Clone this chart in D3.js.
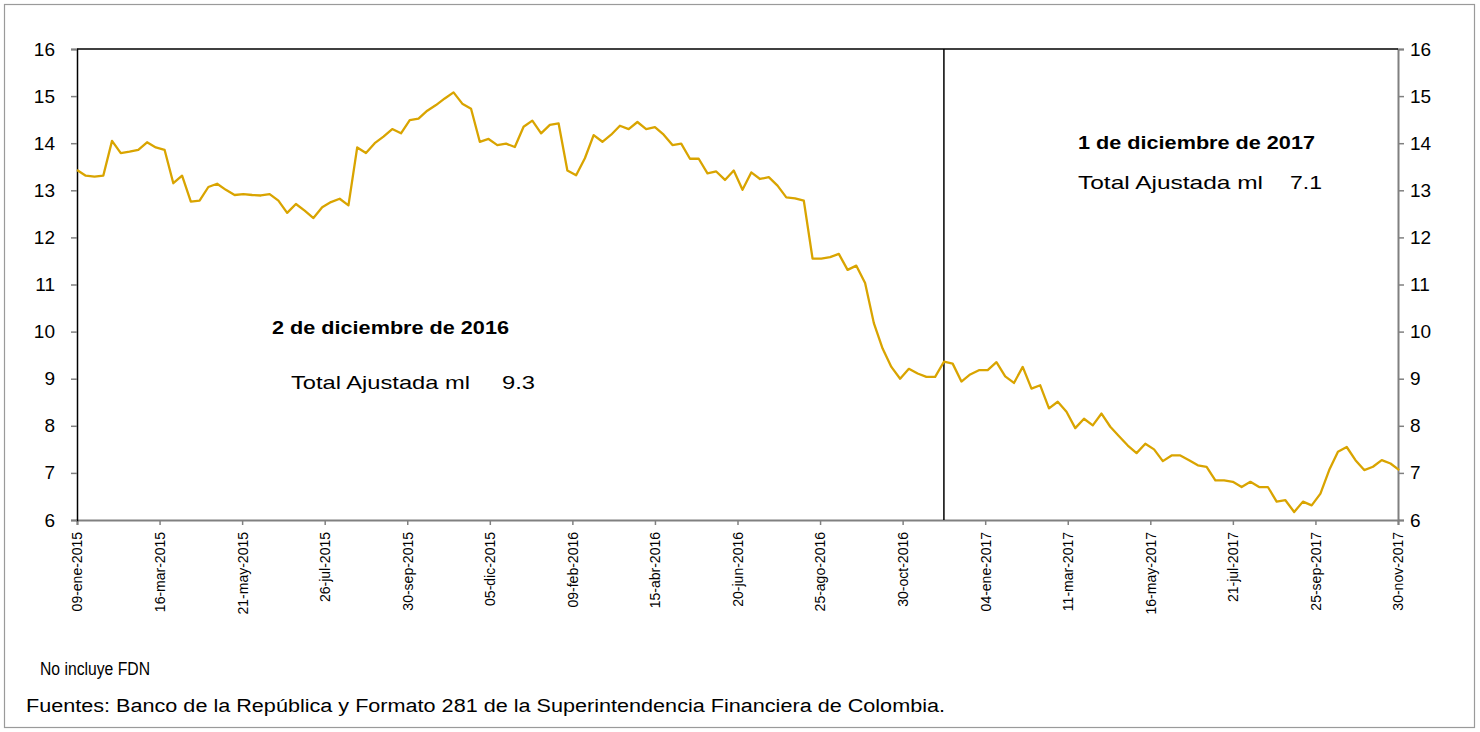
<!DOCTYPE html>
<html>
<head>
<meta charset="utf-8">
<script src="https://cdn.jsdelivr.net/npm/d3@7"></script>
<style>
  html, body { margin: 0; padding: 0; background: #fff; }
  svg { display: block; font-family: "Liberation Sans", Arial, sans-serif; }
</style>
</head>
<body>
<svg id="chart" width="1480" height="732"></svg>
<script>
// ---- data ----
const startDate = "2015-01-09";           // first weekly observation (Friday)
const values = [
  13.43, 13.31, 13.29, 13.31, 14.05, 13.79, 13.82, 13.86, 14.02, 13.91,
  13.86, 13.15, 13.31, 12.76, 12.78, 13.07, 13.14, 13.01, 12.90, 12.92,
  12.90, 12.89, 12.92, 12.78, 12.52, 12.71, 12.57, 12.41, 12.64, 12.75,
  12.82, 12.68, 13.91, 13.79, 14.00, 14.14, 14.30, 14.21, 14.49, 14.52,
  14.69, 14.81, 14.95, 15.08, 14.84, 14.73, 14.03, 14.09, 13.96, 13.99,
  13.92, 14.35, 14.48, 14.21, 14.39, 14.42, 13.42, 13.32, 13.68, 14.17,
  14.03, 14.18, 14.37, 14.30, 14.45, 14.30, 14.34, 14.18, 13.96, 13.99,
  13.67, 13.67, 13.36, 13.40, 13.22, 13.42, 13.01, 13.38, 13.24, 13.28,
  13.10, 12.85, 12.83, 12.78, 11.55, 11.55, 11.58, 11.65, 11.31, 11.40,
  11.03, 10.18, 9.64, 9.25, 9.00, 9.21, 9.11, 9.04, 9.04, 9.36,
  9.32, 8.94, 9.09, 9.18, 9.18, 9.35, 9.05, 8.91, 9.25, 8.79,
  8.86, 8.37, 8.51, 8.30, 7.95, 8.15, 8.01, 8.26, 7.98, 7.78,
  7.58, 7.42, 7.62, 7.50, 7.25, 7.37, 7.37, 7.27, 7.16, 7.13,
  6.84, 6.84, 6.81, 6.70, 6.81, 6.70, 6.70, 6.39, 6.42, 6.17,
  6.39, 6.31, 6.56, 7.06, 7.45, 7.55, 7.27, 7.06, 7.13, 7.27,
  7.20, 7.06
];
const xTickLabels = [
  "09-ene-2015", "16-mar-2015", "21-may-2015", "26-jul-2015", "30-sep-2015",
  "05-dic-2015", "09-feb-2016", "15-abr-2016", "20-jun-2016", "25-ago-2016",
  "30-oct-2016", "04-ene-2017", "11-mar-2017", "16-may-2017", "21-jul-2017",
  "25-sep-2017", "30-nov-2017"
];
const yTicks = [6, 7, 8, 9, 10, 11, 12, 13, 14, 15, 16];
const markerDate = "2016-12-02";
const annotations = [
  { title: "2 de diciembre de 2016", label: "Total Ajustada ml", value: "9.3" },
  { title: "1 de diciembre de 2017", label: "Total Ajustada ml", value: "7.1" }
];
const notes = [
  "No incluye FDN",
  "Fuentes: Banco de la República y Formato 281 de la Superintendencia Financiera de Colombia."
];

// ---- helpers ----
const monthMap = { ene:0, feb:1, mar:2, abr:3, may:4, jun:5, jul:6, ago:7, sep:8, oct:9, nov:10, dic:11 };
function parseEs(s) {
  const [d, m, y] = s.split("-");
  return new Date(+y, monthMap[m], +d);
}
const parseIso = d3.timeParse("%Y-%m-%d");
const t0 = parseIso(startDate);
const data = values.map((v, i) => ({ date: d3.timeDay.offset(t0, 7 * i), value: v }));
const tickDates = xTickLabels.map(parseEs);

// ---- layout ----
const svg = d3.select("#chart");
const L = 77, R = 1398, T = 49, B = 520;

svg.append("rect")
  .attr("x", 4.5).attr("y", 4.5).attr("width", 1470).attr("height", 723)
  .attr("fill", "#fff").attr("stroke", "#9a9a9a").attr("stroke-width", 1.2);

const x = d3.scaleTime().domain([tickDates[0], tickDates[tickDates.length - 1]]).range([L, R]);
const y = d3.scaleLinear().domain([6, 16]).range([B, T]);

// bottom axis
const xAxis = d3.axisBottom(x).tickValues(tickDates).tickSize(5).tickFormat((d, i) => xTickLabels[i]);
const gx = svg.append("g").attr("transform", `translate(0,${B})`).call(xAxis);
gx.select(".domain").attr("stroke", "#808080").attr("stroke-width", 2);
gx.selectAll(".tick line").attr("stroke", "#808080").attr("stroke-width", 1.5);
gx.selectAll(".tick text")
  .attr("font-size", 14).attr("fill", "#000")
  .attr("transform", "rotate(-90)")
  .attr("text-anchor", "end")
  .attr("x", -12).attr("y", 0).attr("dy", "0.35em");

// left axis
const yAxisL = d3.axisLeft(y).tickValues(yTicks).tickSize(6).tickFormat(d3.format("d"));
const gyl = svg.append("g").attr("transform", `translate(${L},0)`).call(yAxisL);
gyl.select(".domain").attr("stroke", "#000").attr("stroke-width", 1.5);
gyl.selectAll(".tick line").attr("stroke", "#808080").attr("stroke-width", 1.5);
gyl.selectAll(".tick text").attr("font-size", 19).attr("fill", "#000").attr("x", -22);

// right axis
const yAxisR = d3.axisRight(y).tickValues(yTicks).tickSize(6).tickFormat(d3.format("d"));
const gyr = svg.append("g").attr("transform", `translate(${R},0)`).call(yAxisR);
gyr.select(".domain").attr("stroke", "#808080").attr("stroke-width", 2);
gyr.selectAll(".tick line").attr("stroke", "#808080").attr("stroke-width", 1.5);
gyr.selectAll(".tick text").attr("font-size", 19).attr("fill", "#000").attr("x", 12);

// top border
svg.append("line").attr("x1", L).attr("x2", R).attr("y1", T).attr("y2", T)
  .attr("stroke", "#000").attr("stroke-width", 1.5);

// marker line
const mx = x(parseIso(markerDate));
svg.append("line").attr("x1", mx).attr("x2", mx).attr("y1", T).attr("y2", B)
  .attr("stroke", "#000").attr("stroke-width", 1.5);

// series line
const line = d3.line().x(d => x(d.date)).y(d => y(d.value));
svg.append("path").datum(data)
  .attr("d", line).attr("fill", "none")
  .attr("stroke", "#D9A400").attr("stroke-width", 2.3).attr("stroke-linejoin", "round");

// annotations
const annPos = [
  { tx: 272, ty: 334, tw: 237, lx: 291, ly: 389, lw: 179, vx: 502, vw: 33 },
  { tx: 1078, ty: 149, tw: 237, lx: 1078, ly: 189, lw: 185, vx: 1290, vw: 32 }
];
annotations.forEach((a, i) => {
  const p = annPos[i];
  svg.append("text").attr("x", p.tx).attr("y", p.ty)
    .attr("font-size", 18.5).attr("font-weight", "bold")
    .attr("textLength", p.tw).attr("lengthAdjust", "spacingAndGlyphs").text(a.title);
  svg.append("text").attr("x", p.lx).attr("y", p.ly)
    .attr("font-size", 19)
    .attr("textLength", p.lw).attr("lengthAdjust", "spacingAndGlyphs").text(a.label);
  svg.append("text").attr("x", p.vx).attr("y", p.ly)
    .attr("font-size", 19)
    .attr("textLength", p.vw).attr("lengthAdjust", "spacingAndGlyphs").text(a.value);
});

// notes
svg.append("text").attr("x", 40).attr("y", 675).attr("font-size", 18)
  .attr("textLength", 110).attr("lengthAdjust", "spacingAndGlyphs").text(notes[0]);
svg.append("text").attr("x", 26).attr("y", 712).attr("font-size", 18)
  .attr("textLength", 919).attr("lengthAdjust", "spacingAndGlyphs").text(notes[1]);
</script>
</body>
</html>
